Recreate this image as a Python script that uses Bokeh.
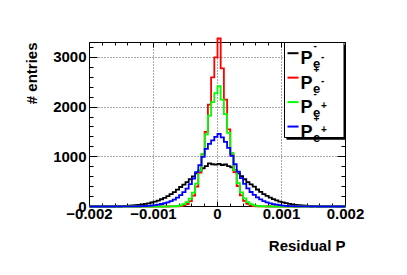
import numpy as np
from bokeh.plotting import figure
from bokeh.models import (FixedTicker, LinearAxis, Range1d, Label,
                          CustomJSTickFormatter, Title)
from bokeh.embed import file_html
from bokeh.resources import INLINE

# ---------------- data ----------------
x_min, x_max = -0.002, 0.002
n_bins = 80
y_max = 3300

black_counts = [0, 1, 0, 1, 2, 2, 3, 4, 5, 7, 9, 12, 15, 21, 26, 34, 41, 52, 64, 80,
                98, 118, 146, 172, 208, 248, 290, 338, 392, 440, 492, 548, 606, 668, 722, 770, 812, 868, 850, 842,
                858, 835, 845, 812, 790, 730, 668, 612, 548, 490, 445, 400, 342, 296, 250, 212, 178, 150, 122, 100,
                82, 66, 52, 42, 33, 26, 21, 16, 12, 9, 7, 5, 4, 3, 2, 2, 1, 1, 0, 1]
red_counts = [0] * 25 + [1, 2, 4, 10, 22, 50, 110, 220, 400, 680, 1050, 1500, 2050, 2600, 3000,
                         3380, 2780, 2150, 1550, 1060, 690, 410, 225, 112, 52, 23, 10, 4, 2, 1] + [0] * 25
green_counts = [0] * 24 + [1, 2, 5, 10, 22, 46, 88, 160, 280, 460, 720, 1060, 1450, 1830, 2100, 2280,
                           2420, 2150, 1860, 1480, 1080, 730, 470, 285, 165, 90, 46, 23, 11, 5, 2, 1] + [0] * 24
blue_counts = [0, 0, 0, 0, 0, 0, 0, 0, 1, 0, 1, 1, 2, 2, 3, 5, 7, 10, 14, 20,
               28, 38, 50, 65, 85, 110, 140, 180, 230, 290, 360, 450, 560, 690, 830, 1000, 1160, 1260, 1330, 1400,
               1460, 1390, 1300, 1180, 1020, 850, 700, 570, 455, 365, 292, 232, 182, 142, 108, 84, 64, 48, 37, 27,
               19, 13, 9, 6, 4, 3, 2, 1, 1, 0, 1, 0, 0, 0, 0, 0, 0, 0, 0, 0]

series_counts = [black_counts, red_counts, green_counts, blue_counts]
series_colors = ["#000000", "#ff0000", "#00ff00", "#0000ff"]
legend_sup = ["-", "+", "-", "+"]
legend_subsup = ["-", "-", "+", "+"]

x_ticks = [-0.002, -0.001, 0.0, 0.001, 0.002]
x_tick_labels = ["\u22120.002", "\u22120.001", "0", "0.001", "0.002"]
y_ticks = [0, 1000, 2000, 3000]
y_tick_labels = ["0", "1000", "2000", "3000"]
x_title = "Residual P"
y_title = "# entries"

# ---------------- layout helpers (page pixels -> data) ----------------
FL, FR, FT, FB = 89.0, 345.0, 42.0, 206.0   # frame in page px


def X(px):
    return x_min + (px - FL) / (FR - FL) * (x_max - x_min)


def Y(py):
    return (FB - py) / (FB - FT) * y_max


FONT = "Liberation Sans"
W, H = 400, 268

p = figure(width=W, height=H, output_backend="svg", toolbar_location=None,
           x_range=Range1d(x_min, x_max), y_range=Range1d(0, y_max),
           min_border_left=int(FL), min_border_right=int(W - FR), min_border_top=int(FT),
           min_border_bottom=int(H - FB))
p.background_fill_color = "white"
p.border_fill_color = "white"
p.outline_line_color = "black"
p.outline_line_width = 1

x_minor = [float(v) for v in np.round(np.arange(x_min, x_max + 1e-9, 0.0002), 6)]
y_minor = [float(v) for v in np.arange(0, y_max + 1, 200)]

lab_fmt_x = CustomJSTickFormatter(args=dict(tvals=x_ticks, tlabels=x_tick_labels), code="""
const i = tvals.findIndex(t => Math.abs(t - tick) < 1e-9);
return i >= 0 ? tlabels[i] : '';
""")
lab_fmt_y = CustomJSTickFormatter(args=dict(tvals=y_ticks, tlabels=y_tick_labels), code="""
const i = tvals.findIndex(t => Math.abs(t - tick) < 1e-6);
return i >= 0 ? tlabels[i] : '';
""")
empty_fmt = CustomJSTickFormatter(code="return '';")


def style_axis(ax, major_in, minor_in):
    ax.axis_line_color = "black"
    ax.major_tick_line_color = "black"
    ax.minor_tick_line_color = "black"
    ax.major_tick_in = major_in
    ax.major_tick_out = 0
    ax.minor_tick_in = minor_in
    ax.minor_tick_out = 0
    ax.major_label_text_font = FONT
    ax.major_label_text_font_style = "bold"
    ax.major_label_text_font_size = "15px"
    ax.major_label_text_color = "black"


xb = p.xaxis[0]
xb.ticker = FixedTicker(ticks=x_ticks, minor_ticks=x_minor)
xb.formatter = lab_fmt_x
style_axis(xb, 5, 3)
xb.major_label_standoff = 2

yl = p.yaxis[0]
yl.ticker = FixedTicker(ticks=y_ticks, minor_ticks=y_minor)
yl.formatter = lab_fmt_y
style_axis(yl, 8, 4)
yl.major_label_standoff = 3

xt = LinearAxis(ticker=FixedTicker(ticks=x_ticks, minor_ticks=x_minor), formatter=empty_fmt)
style_axis(xt, 5, 3)
p.add_layout(xt, "above")
yr = LinearAxis(ticker=FixedTicker(ticks=y_ticks, minor_ticks=y_minor), formatter=empty_fmt)
style_axis(yr, 8, 4)
p.add_layout(yr, "right")

p.xgrid.ticker = FixedTicker(ticks=[-0.001, 0.0, 0.001])
p.ygrid.ticker = FixedTicker(ticks=[1000, 2000, 3000])
for g in (p.xgrid[0], p.ygrid[0]):
    g.grid_line_color = "#555555"
    g.grid_line_dash = "1 2"
    g.grid_line_width = 1

# ---------------- histograms ----------------
edges = [float(v) for v in np.linspace(x_min, x_max, n_bins + 1)]
for counts, col in zip(series_counts, series_colors):
    p.step(x=edges, y=list(counts) + [counts[-1]], mode="after",
           line_color=col, line_width=1.8, line_join="miter", level="overlay")

# ---------------- axis titles ----------------
p.add_layout(Title(text=x_title, align="right", text_font=FONT, text_font_style="bold",
                   text_font_size="15px", text_color="black", standoff=27), "below")
p.add_layout(Title(text=y_title, align="right", text_font=FONT, text_font_style="bold",
                   text_font_size="15px", text_color="black", standoff=22), "left")

# ---------------- legend ----------------
p.quad(left=[X(286)], right=[X(345.5)], top=[Y(44.5)], bottom=[Y(139.3)],
       fill_color="black", line_color=None, level="overlay")
p.quad(left=[X(284)], right=[X(343.5)], top=[Y(42)], bottom=[Y(137)],
       fill_color="white", line_color="black", line_width=1, level="overlay")
step = 24.45
p.segment(x0=[X(287)] * 4, x1=[X(298)] * 4,
          y0=[Y(52.7 + step * j) for j in range(4)], y1=[Y(52.7 + step * j) for j in range(4)],
          line_color=series_colors, line_width=2, level="overlay")
for j in range(4):
    dy = step * j
    p.add_layout(Label(x=X(300), y=Y(57.8 + dy), text="P", text_align="left",
                       text_baseline="alphabetic", text_font=FONT, text_font_style="bold",
                       text_font_size="18px", text_color="black", level="overlay"))
    p.add_layout(Label(x=X(313), y=Y(44 + dy), text=legend_sup[j], text_align="left",
                       text_baseline="middle", text_font=FONT, text_font_style="bold",
                       text_font_size="10px", text_color="black", level="overlay"))
    p.add_layout(Label(x=X(312.5), y=Y(63.3 + dy), text="e", text_align="left",
                       text_baseline="alphabetic", text_font=FONT, text_font_style="bold",
                       text_font_size="13px", text_color="black", level="overlay"))
    p.add_layout(Label(x=X(320.5), y=Y(55.5 + dy), text=legend_subsup[j], text_align="left",
                       text_baseline="middle", text_font=FONT, text_font_style="bold",
                       text_font_size="10px", text_color="black", level="overlay"))

open("out.html", "w").write(file_html(p, INLINE))
